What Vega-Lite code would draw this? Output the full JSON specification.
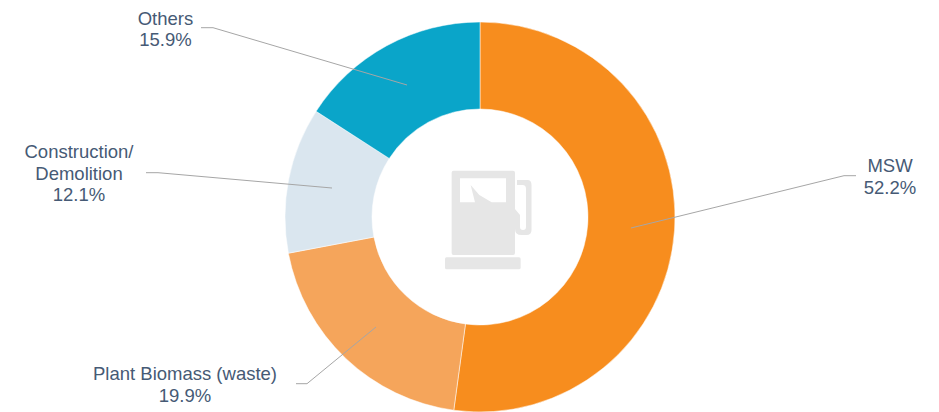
{"$schema":"https://vega.github.io/schema/vega-lite/v6.json","width":939,"height":412,"padding":0,"autosize":{"type":"none"},"background":"white","config":{"view":{"stroke":null}},
"datasets":{"shares":[{"category":"MSW","share":52.2,"rank":1},{"category":"Plant Biomass (waste)","share":19.9,"rank":2},{"category":"Construction/Demolition","share":12.1,"rank":3},{"category":"Others","share":15.9,"rank":4}],
"leaders":[{"category":"MSW","step":1,"px":856,"py":175.7},{"category":"MSW","step":2,"px":844,"py":175.7},{"category":"MSW","step":3,"px":631,"py":228},{"category":"Plant","step":1,"px":296,"py":383.7},{"category":"Plant","step":2,"px":307,"py":383.7},{"category":"Plant","step":3,"px":376,"py":327},{"category":"Construction","step":1,"px":146,"py":172.7},{"category":"Construction","step":2,"px":158,"py":172.7},{"category":"Construction","step":3,"px":332,"py":188},{"category":"Others","step":1,"px":201,"py":27.7},{"category":"Others","step":2,"px":213,"py":27.7},{"category":"Others","step":3,"px":407,"py":85}],
"labels":[{"label":"MSW\n52.2%","px":890,"py":166},{"label":"Plant Biomass (waste)\n19.9%","px":185,"py":374},{"label":"Construction/\nDemolition\n12.1%","px":79,"py":152},{"label":"Others\n15.9%","px":165.5,"py":18.5}],
"icon":[{"px":488.5,"py":220}]},
"layer":[
{"data":{"name":"shares"},"mark":{"type":"arc","radius":195,"radius2":108,"stroke":"white","strokeWidth":0.5},
"encoding":{"x":{"datum":480,"type":"quantitative","scale":{"domain":[0,939],"nice":false,"zero":false},"axis":null},"y":{"datum":217,"type":"quantitative","scale":{"domain":[412,0],"nice":false,"zero":false},"axis":null},
"theta":{"field":"share","type":"quantitative","stack":true},"order":{"field":"rank","type":"ordinal"},
"color":{"field":"category","type":"nominal","legend":null,"scale":{"domain":["MSW","Plant Biomass (waste)","Construction/Demolition","Others"],"range":["#F78D1E","#F5A55B","#DAE6EF","#0AA5C9"]}}}},
{"data":{"name":"icon"},"mark":{"type":"point","filled":true,"opacity":1,"color":"#E6E6E6","strokeWidth":0,"size":10000,"shape":"M-0.70,-0.987 L0.49,-0.987 Q0.53,-0.987 0.53,-0.947 L0.53,0.66 Q0.53,0.70 0.49,0.70 L-0.70,0.70 Q-0.737,0.70 -0.737,0.66 L-0.737,-0.947 Q-0.737,-0.987 -0.70,-0.987 Z M-0.57,-0.833 L-0.57,-0.353 L-0.27,-0.353 L-0.357,-0.70 L-0.183,-0.5 L0.063,-0.353 L0.35,-0.353 L0.35,-0.833 Z M-0.84,0.747 L0.61,0.747 Q0.643,0.747 0.643,0.78 L0.643,0.95 Q0.643,0.987 0.61,0.987 L-0.84,0.987 Q-0.87,0.987 -0.87,0.95 L-0.87,0.78 Q-0.87,0.747 -0.84,0.747 Z M0.57,-0.80 L0.78,-0.80 Q0.86,-0.80 0.86,-0.70 L0.86,0.20 Q0.86,0.30 0.76,0.30 L0.66,0.30 Q0.53,0.30 0.53,0.18 L0.53,-0.22 L0.63,-0.10 L0.63,0.14 Q0.63,0.20 0.69,0.20 Q0.75,0.20 0.75,0.14 L0.75,-0.62 Q0.75,-0.70 0.68,-0.70 L0.57,-0.70 Z"},
"encoding":{"x":{"field":"px","type":"quantitative","scale":{"domain":[0,939],"nice":false,"zero":false},"axis":null},"y":{"field":"py","type":"quantitative","scale":{"domain":[412,0],"nice":false,"zero":false},"axis":null}}},
{"data":{"name":"leaders"},"mark":{"type":"line","color":"#A6A6A6","strokeWidth":1,"interpolate":"linear"},
"encoding":{"x":{"field":"px","type":"quantitative","scale":{"domain":[0,939],"nice":false,"zero":false},"axis":null},"y":{"field":"py","type":"quantitative","scale":{"domain":[412,0],"nice":false,"zero":false},"axis":null},"detail":{"field":"category"},"order":{"field":"step","type":"quantitative"}}},
{"data":{"name":"labels"},"mark":{"type":"text","font":"Liberation Sans","fontSize":18.5,"color":"#465A75","align":"center","baseline":"middle","lineBreak":"\n","lineHeight":21.7},
"encoding":{"x":{"field":"px","type":"quantitative","scale":{"domain":[0,939],"nice":false,"zero":false},"axis":null},"y":{"field":"py","type":"quantitative","scale":{"domain":[412,0],"nice":false,"zero":false},"axis":null},"text":{"field":"label"}}}
]}
